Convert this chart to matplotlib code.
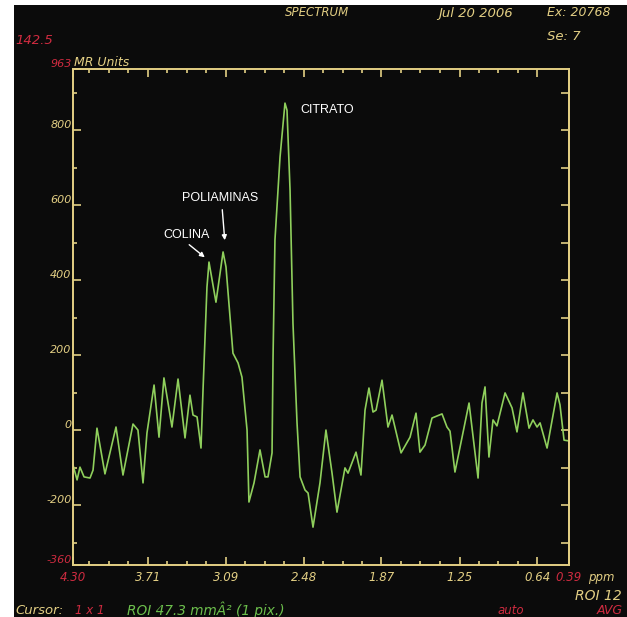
import numpy as np
import matplotlib
matplotlib.use("Agg")
import matplotlib.pyplot as plt
from matplotlib.patches import Rectangle

# ---- data ----
ppm = [4.300, 4.268, 4.245, 4.213, 4.166, 4.142, 4.111, 4.048, 3.961, 3.906,
       3.827, 3.788, 3.748, 3.717, 3.661, 3.622, 3.583, 3.520, 3.472, 3.417,
       3.378, 3.354, 3.322, 3.291, 3.275, 3.244, 3.228, 3.173, 3.117, 3.094,
       3.039, 2.999, 2.968, 2.928, 2.913, 2.873, 2.826, 2.786, 2.763, 2.731,
       2.723, 2.708, 2.668, 2.629, 2.613, 2.589, 2.566, 2.534, 2.510, 2.471,
       2.447, 2.408, 2.353, 2.306, 2.258, 2.219, 2.156, 2.132, 2.069, 2.030,
       1.998, 1.967, 1.935, 1.911, 1.864, 1.817, 1.785, 1.714, 1.643, 1.596,
       1.565, 1.525, 1.470, 1.391, 1.352, 1.328, 1.289, 1.178, 1.107, 1.076,
       1.052, 1.021, 0.989, 0.958, 0.894, 0.839, 0.800, 0.753, 0.705, 0.674,
       0.642, 0.618, 0.563, 0.484, 0.461, 0.429, 0.390]
intensity = [-93, -133, -99, -125, -128, -107, 5, -117, 8, -120,
             16, 0, -141, -8, 120, -19, 139, 8, 136, -21,
             93, 40, 35, -48, 107, 381, 448, 341, 475, 435,
             205, 179, 141, 0, -192, -141, -53, -125, -125, -61,
             195, 507, 728, 872, 853, 640, 285, 19, -125, -160,
             -168, -259, -141, 0, -115, -219, -101, -115, -59, -120,
             53, 112, 48, 53, 133, 8, 40, -61, -19, 45,
             -59, -40, 32, 43, 8, -3, -112, 72, -128, 72,
             115, -72, 27, 11, 99, 59, -5, 99, 5, 27,
             8, 19, -48, 99, 67, -27, -29]

x_major = [4.30, 3.71, 3.09, 2.48, 1.87, 1.25, 0.64, 0.39]
x_major_labels = ["4.30", "3.71", "3.09", "2.48", "1.87", "1.25", "0.64", "0.39"]
y_major = [-360, -200, 0, 200, 400, 600, 800, 963]
y_major_labels = ["-360", "-200", "0", "200", "400", "600", "800", "963"]

peak_labels = ["CITRATO", "POLIAMINAS", "COLINA"]

TAN = "#e3cf84"
RED = "#cf2b40"
GREEN = "#8fcf5c"
GREEN_T = "#6cbf4c"
BLACK = "#0b0b0b"

W, H = 627, 617
fig = plt.figure(figsize=(W / 100, H / 100), dpi=100, facecolor="white")
fig.patches.append(Rectangle((14 / W, 0), 1 - 14 / W, 1 - 5 / H,
                             transform=fig.transFigure, facecolor=BLACK,
                             edgecolor="none", zorder=-10))

L, R, T, B = 73, 569, 69, 565
ax = fig.add_axes([L / W, 1 - B / H, (R - L) / W, (B - T) / H])
ax.set_facecolor(BLACK)
ax.plot(ppm, intensity, color=GREEN, lw=1.2)
ax.set_xlim(4.30, 0.39)
ax.set_ylim(-360, 963)

for s in ax.spines.values():
    s.set_color(TAN)
    s.set_linewidth(1.4)

mono = dict(family="DejaVu Sans", style="italic")

# x ticks
ax.set_xticks(x_major)
ax.set_xticklabels(x_major_labels, fontsize=8.5, color=TAN, **mono)
step = (3.71 - 0.64) / 5 / 4
xminor = [3.71 + k * step for k in range(-20, 4) if k % 4 != 0]
xminor = [v for v in xminor if 0.39 < v < 4.30]
ax.set_xticks(xminor, minor=True)
for i, lab in enumerate(ax.get_xticklabels()):
    if i in (0, len(x_major) - 1):
        lab.set_color(RED)
ax.tick_params(axis="x", which="major", direction="in", length=6, width=1.2,
               color=TAN, top=True, bottom=True, pad=4)
ax.tick_params(axis="x", which="minor", direction="in", length=3, width=1.2,
               color=TAN, top=True, bottom=True)

# y ticks (left)
ax.set_yticks(y_major)
ax.set_yticklabels(y_major_labels, fontsize=8, color=TAN, **mono)
ax.set_yticks([v for v in range(-300, 963, 100) if v % 200 != 0], minor=True)
for i, lab in enumerate(ax.get_yticklabels()):
    lab.set_va("bottom")
    if i in (0, len(y_major) - 1):
        lab.set_color(RED)
ax.tick_params(axis="y", which="major", direction="in", length=6, width=1.2,
               color=TAN, left=True, right=False, pad=1)
ax.tick_params(axis="y", which="minor", direction="in", length=3, width=1.2,
               color=TAN, left=True, right=False)

# right axis: equal-length ticks every 100
sec = ax.secondary_yaxis("right")
sec.set_yticks(list(range(-300, 963, 100)))
sec.set_yticklabels([])
sec.tick_params(axis="y", direction="in", length=6, width=1.2, color=TAN)
sec.spines["right"].set_color(TAN)
sec.spines["right"].set_linewidth(1.4)

# peak annotations
afont = dict(family="Liberation Sans", fontsize=9, color="white")
ax.text(2.51, 853, peak_labels[0], va="center", ha="left", **afont)
ax.text(3.441, 619, peak_labels[1], va="center", ha="left", **afont)
ax.text(3.591, 520, peak_labels[2], va="center", ha="left", **afont)
aprops = dict(arrowstyle="-|>", color="white", lw=1.0, mutation_scale=7)
ax.annotate("", xy=(3.244, 456), xytext=(3.401, 499), arrowprops=aprops)
ax.annotate("", xy=(3.102, 499), xytext=(3.125, 595), arrowprops=aprops)


def ftext(x, y, s, color=TAN, ha="left", size=8.5):
    fig.text(x / W, 1 - y / H, s, color=color, ha=ha, va="center",
             fontsize=size, **mono)


ftext(285, 13, "SPECTRUM", size=8.5)
ftext(438, 13, "Jul 20 2006", size=9.5)
ftext(547, 13, "Ex: 20768", size=9)
ftext(547, 37, "Se: 7", size=9.5)
ftext(15, 40, "142.5", color=RED, size=9.5)
ftext(74, 62, "MR Units", size=9)
ftext(588, 578, "ppm")
ftext(622, 596, "ROI 12", ha="right", size=10)
ftext(15, 610, "Cursor:", size=9.5)
ftext(75, 610, "1 x 1", color=RED)
ftext(127, 610, "ROI 47.3 mmÂ² (1 pix.)", color=GREEN_T, size=9.8)
ftext(498, 610, "auto", color=RED)
ftext(623, 610, "AVG", color=RED, ha="right", size=9)

fig.savefig("out.png", dpi=100, facecolor=fig.get_facecolor())
